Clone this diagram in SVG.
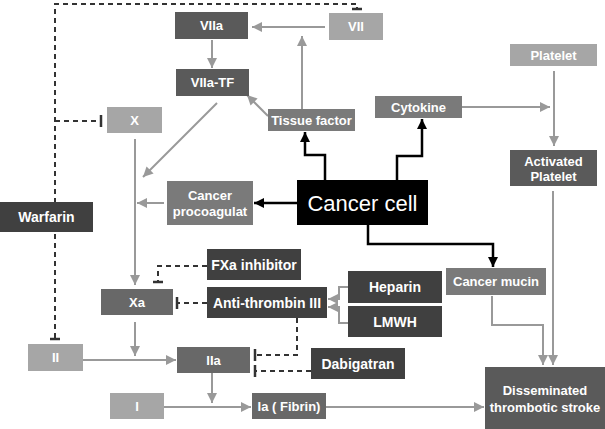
<svg xmlns="http://www.w3.org/2000/svg" width="605" height="429" viewBox="0 0 605 429">
<style>
.n text{font-family:"Liberation Sans",Arial,sans-serif;font-weight:bold;font-size:13px;fill:#fff;text-anchor:middle;dominant-baseline:central}
.n text.b{font-size:14px}
.light{fill:#a6a6a6}.mid{fill:#7a7a7a}.md{fill:#686868}.dk{fill:#5a5a5a}.dd{fill:#404040}
.g{stroke:#999;stroke-width:2;fill:none}
.k{stroke:#000;stroke-width:2.5;fill:none}
.d{stroke:#333;stroke-width:2;fill:none;stroke-dasharray:5 4}
.t{stroke:#333;stroke-width:2.5;fill:none}
</style>
<defs>
<marker id="ag" markerUnits="userSpaceOnUse" markerWidth="11" markerHeight="11" refX="10" refY="5" orient="auto"><path d="M0,0L10,5L0,10z" fill="#999"/></marker>
<marker id="ak" markerUnits="userSpaceOnUse" markerWidth="11" markerHeight="11" refX="10" refY="5" orient="auto"><path d="M0,0L10,5L0,10z" fill="#000"/></marker>
</defs>
<g id="connectors">
<!-- Warfarin dashed inhibition -->
<path class="d" d="M55,338V4H357V8"/>
<path class="t" d="M352,9H362"/>
<path class="d" d="M55,121H101"/>
<path class="t" d="M101,115V127"/>
<path class="t" d="M50,339H60"/>
<!-- gray arrows -->
<path class="g" marker-end="url(#ag)" d="M325,27H252"/>
<path class="g" marker-end="url(#ag)" d="M212,40V68"/>
<path class="g" marker-end="url(#ag)" d="M302,109V36"/>
<path class="g" marker-end="url(#ag)" d="M268,116L247,95"/>
<path class="g" marker-end="url(#ag)" d="M217,103L143,177"/>
<path class="g" marker-end="url(#ag)" d="M135,139V285"/>
<path class="g" marker-end="url(#ag)" d="M164,203H137"/>
<path class="g" marker-end="url(#ag)" d="M462,107H550"/>
<path class="g" marker-end="url(#ag)" d="M554,71V146"/>
<path class="g" marker-end="url(#ag)" d="M553,191V365"/>
<path class="g" marker-end="url(#ag)" d="M492,296V325H543V365"/>
<path class="g" marker-end="url(#ag)" d="M326,407H484"/>
<path class="g" marker-end="url(#ag)" d="M164,407H251"/>
<path class="g" marker-end="url(#ag)" d="M212,373V403"/>
<path class="g" marker-end="url(#ag)" d="M83,360H176"/>
<path class="g" marker-end="url(#ag)" d="M135,322V356"/>
<path class="g" marker-end="url(#ag)" d="M348,287H339V299H328"/>
<path class="g" marker-end="url(#ag)" d="M348,323H339V307H328"/>
<!-- black arrows -->
<path class="k" marker-end="url(#ak)" d="M297,203H254"/>
<path class="k" marker-end="url(#ak)" d="M325,180V155H305V132"/>
<path class="k" marker-end="url(#ak)" d="M397,180V156H422V119"/>
<path class="k" marker-end="url(#ak)" d="M368,225V244H493V267"/>
<!-- drug inhibitions -->
<path class="d" d="M207,266H158V281"/>
<path class="t" d="M153,282H163"/>
<path class="d" d="M207,303H177"/>
<path class="t" d="M177,297V309"/>
<path class="d" d="M297,318V355H255"/>
<path class="t" d="M255,349V361"/>
<path class="d" d="M311,371H255"/>
<path class="t" d="M255,365V377"/>
</g>
<g id="n-vIIa" class="n"><rect class="dk" x="175" y="12" width="73" height="27"/><text x="211.5" y="25.5">VIIa</text></g>
<g id="n-vII" class="n"><rect class="light" x="329" y="13" width="54" height="27"/><text x="356" y="26.5">VII</text></g>
<g id="n-vIIa-tf" class="n"><rect class="dk" x="176" y="69" width="73" height="27"/><text x="212.5" y="82.5">VIIa-TF</text></g>
<g id="n-x" class="n"><rect class="light" x="107" y="107" width="55" height="26"/><text x="134.5" y="120">X</text></g>
<g id="n-tissue" class="n"><rect class="mid" x="268" y="109" width="87" height="22"/><text x="311.5" y="120">Tissue factor</text></g>
<g id="n-cytokine" class="n"><rect class="mid" x="375" y="96" width="87" height="22"/><text x="418.5" y="107">Cytokine</text></g>
<g id="n-platelet" class="n"><rect class="light" x="510" y="44" width="87" height="22"/><text x="553.5" y="55">Platelet</text></g>
<g id="n-activated" class="n"><rect class="dk" x="510" y="150" width="87" height="36"/><text x="553.5" y="161">Activated</text><text x="553.5" y="176.5">Platelet</text></g>
<g id="n-cancer" class="n"><rect fill="#000" x="297" y="180" width="131" height="45"/><text x="362.5" y="203" style="font-weight:normal;font-size:22px">Cancer cell</text></g>
<g id="n-procoag" class="n"><rect class="mid" x="167" y="181" width="86" height="44"/><text x="210" y="195.5">Cancer</text><text x="210" y="211.5">procoagulat</text></g>
<g id="n-warfarin" class="n"><rect class="dd" x="0" y="202" width="93" height="30"/><text class="b" x="46.5" y="217">Warfarin</text></g>
<g id="n-fxa" class="n"><rect class="dd" x="207" y="249" width="94" height="31"/><text class="b" x="254" y="264.5">FXa inhibitor</text></g>
<g id="n-xa" class="n"><rect class="md" x="101" y="289" width="72" height="26"/><text x="137" y="302">Xa</text></g>
<g id="n-at3" class="n"><rect class="dd" x="207" y="287" width="120" height="31"/><text class="b" x="267" y="302.5">Anti-thrombin III</text></g>
<g id="n-heparin" class="n"><rect class="dd" x="348" y="271" width="94" height="32"/><text class="b" x="395" y="287">Heparin</text></g>
<g id="n-lmwh" class="n"><rect class="dd" x="348" y="306" width="94" height="31"/><text class="b" x="395" y="321.5">LMWH</text></g>
<g id="n-mucin" class="n"><rect class="mid" x="446" y="268" width="100" height="27"/><text x="496" y="281.5">Cancer mucin</text></g>
<g id="n-dabigatran" class="n"><rect class="dd" x="311" y="348" width="94" height="31"/><text class="b" x="358" y="363.5">Dabigatran</text></g>
<g id="n-ii" class="n"><rect class="light" x="28" y="344" width="55" height="27"/><text x="55.5" y="357.5">II</text></g>
<g id="n-iia" class="n"><rect class="md" x="177" y="347" width="73" height="26"/><text x="213.5" y="360">IIa</text></g>
<g id="n-i" class="n"><rect class="light" x="110" y="393" width="54" height="26"/><text x="137" y="406">I</text></g>
<g id="n-ia" class="n"><rect class="md" x="252" y="393" width="74" height="26"/><text x="289" y="406">Ia ( Fibrin)</text></g>
<g id="n-dts" class="n"><rect class="dk" x="485" y="367" width="120" height="62"/><text x="545" y="390">Disseminated</text><text x="545" y="407">thrombotic stroke</text></g>
</svg>
